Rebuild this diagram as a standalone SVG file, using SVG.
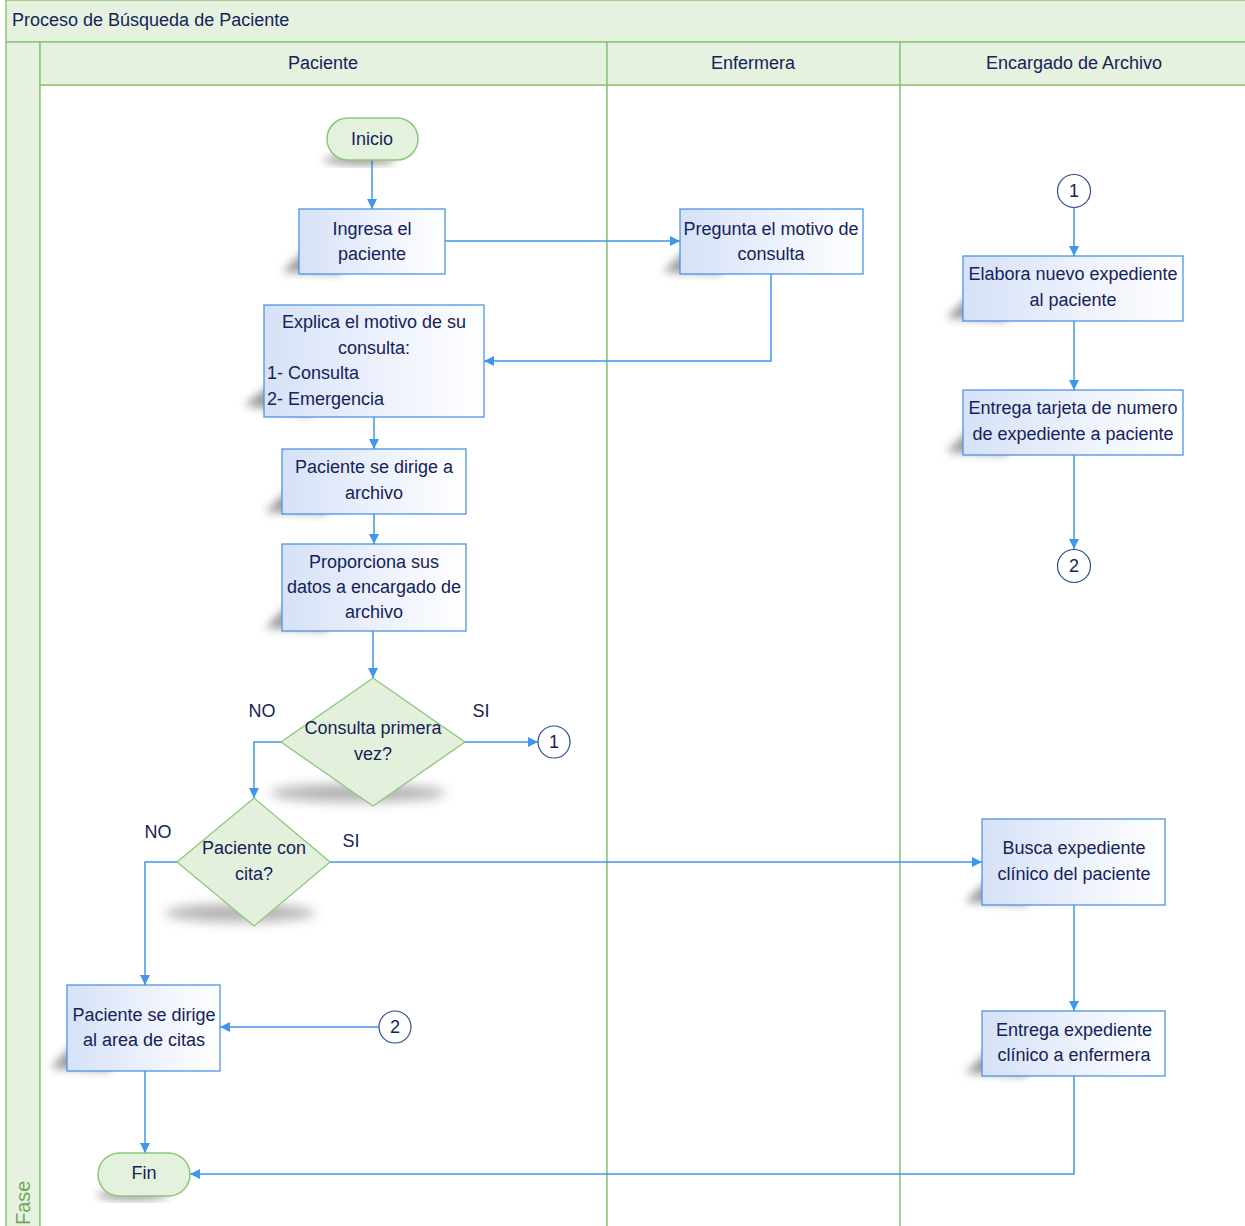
<svg xmlns="http://www.w3.org/2000/svg" width="1245" height="1226" viewBox="0 0 1245 1226">
  <style>
    .lane { fill: #e6f2df; stroke: #8dc67b; stroke-width: 1.5; }
    .body { fill: #ffffff; stroke: #8dc67b; stroke-width: 1.5; }
    .t { font-family: "Liberation Sans", Arial, sans-serif; font-size: 18px; fill: #14235a; }
    .c { text-anchor: middle; }
    .box { fill: url(#boxfill); stroke: #4d94e6; stroke-width: 1.3; }
    .term { fill: #e4f1dc; stroke: #8dc67b; stroke-width: 1.5; }
    .dec { fill: #e3f0dc; stroke: #8dc67b; stroke-width: 1.3; }
    .conn { fill: #ffffff; stroke: #2c4f8f; stroke-width: 1.2; }
    .shadow { fill: #4a4a4a; opacity: 0.55; filter: url(#blur); }
    .dshadow { fill: #555555; opacity: 0.45; filter: url(#blurwide); }
    .edge { fill: none; stroke: #4096ea; stroke-width: 1.5; marker-end: url(#arrow); }
  </style>
  <defs>
    <linearGradient id="boxfill" x1="0" y1="0" x2="1" y2="0">
      <stop offset="0" stop-color="#d6e1f7"/>
      <stop offset="0.7" stop-color="#f3f6fd"/>
      <stop offset="1" stop-color="#ffffff"/>
    </linearGradient>
    <filter id="blur" x="-30%" y="-30%" width="160%" height="160%">
      <feGaussianBlur stdDeviation="4"/>
    </filter>
    <filter id="blurwide" x="-40%" y="-100%" width="180%" height="300%">
      <feGaussianBlur stdDeviation="6"/>
    </filter>
    <marker id="arrow" viewBox="0 0 10 10" refX="10" refY="5" markerWidth="10" markerHeight="10" markerUnits="userSpaceOnUse" orient="auto">
      <path d="M0,0 L10,5 L0,10 z" fill="#4096ea"/>
    </marker>
  </defs>

  <!-- pool frame -->
  <g id="pool">
    <rect class="lane" x="6" y="0" width="1245" height="42"/>
    <text class="t" x="12" y="26">Proceso de Búsqueda de Paciente</text>
    <rect class="lane" x="6" y="42" width="34" height="1190"/>
    <text x="30" y="1225" transform="rotate(-90 30 1225)" style="font-family:'Liberation Sans',Arial,sans-serif;font-size:20px;fill:#6aaa55">Fase</text>
    <rect class="body" x="40" y="85" width="567" height="1147"/>
    <rect class="body" x="607" y="85" width="293" height="1147"/>
    <rect class="body" x="900" y="85" width="350" height="1147"/>
    <rect class="lane" x="40" y="42" width="567" height="43"/>
    <rect class="lane" x="607" y="42" width="293" height="43"/>
    <rect class="lane" x="900" y="42" width="350" height="43"/>
    <text class="t c" x="323" y="69">Paciente</text>
    <text class="t c" x="753" y="69">Enfermera</text>
    <text class="t c" x="1074" y="69">Encargado de Archivo</text>
  </g>

  <!-- connectors -->
  <g id="connectors">
    <path class="edge" d="M372,160 V209"/>
    <path class="edge" d="M445,241 H680"/>
    <path class="edge" d="M771,274 V361 H484"/>
    <path class="edge" d="M374,417 V449"/>
    <path class="edge" d="M374,514 V544"/>
    <path class="edge" d="M373,631 V678"/>
    <path class="edge" d="M281,742 H254 V798"/>
    <path class="edge" d="M465,742 H538"/>
    <path class="edge" d="M330,862 H982"/>
    <path class="edge" d="M177,862 H145 V985"/>
    <path class="edge" d="M379,1027 H220"/>
    <path class="edge" d="M145,1071 V1153"/>
    <path class="edge" d="M1074,1076 V1174 H190"/>
    <path class="edge" d="M1074,208 V256"/>
    <path class="edge" d="M1074,321 V390"/>
    <path class="edge" d="M1074,455 V549"/>
    <path class="edge" d="M1074,905 V1011"/>
  </g>

  <!-- branch labels -->
  <g id="labels">
    <text class="t c" x="262" y="717">NO</text>
    <text class="t c" x="481" y="717">SI</text>
    <text class="t c" x="158" y="838">NO</text>
    <text class="t c" x="351" y="847">SI</text>
  </g>

  <g id="inicio">
    <ellipse class="shadow" cx="360" cy="160" rx="36" ry="5"/>
    <rect class="term" x="327" y="118" width="91" height="42" rx="21"/>
    <text class="t c" x="372" y="145">Inicio</text>
  </g>

  <g id="ingresa">
    <polygon class="shadow" points="282,272 305,250 360,250 340,274"/>
    <rect class="box" x="299" y="209" width="146" height="65"/>
    <text class="t c" x="372" y="235">Ingresa el</text>
    <text class="t c" x="372" y="260">paciente</text>
  </g>

  <g id="pregunta">
    <polygon class="shadow" points="663,272 686,250 740,250 720,274"/>
    <rect class="box" x="680" y="209" width="183" height="65"/>
    <text class="t c" x="771" y="235">Pregunta el motivo de</text>
    <text class="t c" x="771" y="260">consulta</text>
  </g>

  <g id="explica">
    <polygon class="shadow" points="244,405 270,385 330,385 310,416"/>
    <rect class="box" x="264" y="305" width="220" height="112"/>
    <text class="t c" x="374" y="328">Explica el motivo de su</text>
    <text class="t c" x="374" y="354">consulta:</text>
    <text class="t" x="267" y="379">1- Consulta</text>
    <text class="t" x="267" y="405">2- Emergencia</text>
  </g>

  <g id="dirige-archivo">
    <polygon class="shadow" points="265,512 288,490 345,490 325,514"/>
    <rect class="box" x="282" y="449" width="184" height="65"/>
    <text class="t c" x="374" y="473">Paciente se dirige a</text>
    <text class="t c" x="374" y="499">archivo</text>
  </g>

  <g id="proporciona">
    <polygon class="shadow" points="265,628 288,605 345,605 325,631"/>
    <rect class="box" x="282" y="544" width="184" height="87"/>
    <text class="t c" x="374" y="568">Proporciona sus</text>
    <text class="t c" x="374" y="593">datos a encargado de</text>
    <text class="t c" x="374" y="618">archivo</text>
  </g>

  <g id="primera-vez">
    <ellipse class="dshadow" cx="358" cy="793" rx="88" ry="9"/>
    <polygon class="dec" points="373,678 465,742 373,806 281,742"/>
    <text class="t c" x="373" y="734">Consulta primera</text>
    <text class="t c" x="373" y="760">vez?</text>
  </g>

  <g id="con-cita">
    <ellipse class="dshadow" cx="240" cy="913" rx="75" ry="9"/>
    <polygon class="dec" points="254,798 330,862 254,926 177,862"/>
    <text class="t c" x="254" y="854">Paciente con</text>
    <text class="t c" x="254" y="880">cita?</text>
  </g>

  <g id="ref1-left">
    <circle class="conn" cx="554" cy="742" r="16"/>
    <text class="t c" x="554" y="748">1</text>
  </g>

  <g id="area-citas">
    <polygon class="shadow" points="50,1068 73,1045 128,1045 108,1071"/>
    <rect class="box" x="67" y="985" width="153" height="86"/>
    <text class="t c" x="144" y="1021">Paciente se dirige</text>
    <text class="t c" x="144" y="1046">al area de citas</text>
  </g>

  <g id="ref2-left">
    <circle class="conn" cx="395" cy="1027" r="16"/>
    <text class="t c" x="395" y="1033">2</text>
  </g>

  <g id="fin">
    <ellipse class="shadow" cx="133" cy="1195" rx="36" ry="5"/>
    <rect class="term" x="98" y="1153" width="92" height="43" rx="21.5"/>
    <text class="t c" x="144" y="1179">Fin</text>
  </g>

  <g id="ref1-right">
    <circle class="conn" cx="1074" cy="191" r="16.5"/>
    <text class="t c" x="1074" y="197">1</text>
  </g>

  <g id="elabora">
    <polygon class="shadow" points="946,318 969,296 1025,296 1005,321"/>
    <rect class="box" x="963" y="256" width="220" height="65"/>
    <text class="t c" x="1073" y="280">Elabora nuevo expediente</text>
    <text class="t c" x="1073" y="306">al paciente</text>
  </g>

  <g id="entrega-tarjeta">
    <polygon class="shadow" points="946,452 969,430 1025,430 1005,455"/>
    <rect class="box" x="963" y="390" width="220" height="65"/>
    <text class="t c" x="1073" y="414">Entrega tarjeta de numero</text>
    <text class="t c" x="1073" y="440">de expediente a paciente</text>
  </g>

  <g id="ref2-right">
    <circle class="conn" cx="1074" cy="566" r="16.5"/>
    <text class="t c" x="1074" y="572">2</text>
  </g>

  <g id="busca">
    <polygon class="shadow" points="965,902 988,880 1045,880 1025,905"/>
    <rect class="box" x="982" y="819" width="183" height="86"/>
    <text class="t c" x="1074" y="854">Busca expediente</text>
    <text class="t c" x="1074" y="880">clínico del paciente</text>
  </g>

  <g id="entrega-expediente">
    <polygon class="shadow" points="965,1073 988,1051 1045,1051 1025,1076"/>
    <rect class="box" x="982" y="1011" width="183" height="65"/>
    <text class="t c" x="1074" y="1036">Entrega expediente</text>
    <text class="t c" x="1074" y="1061">clínico a enfermera</text>
  </g>
</svg>
